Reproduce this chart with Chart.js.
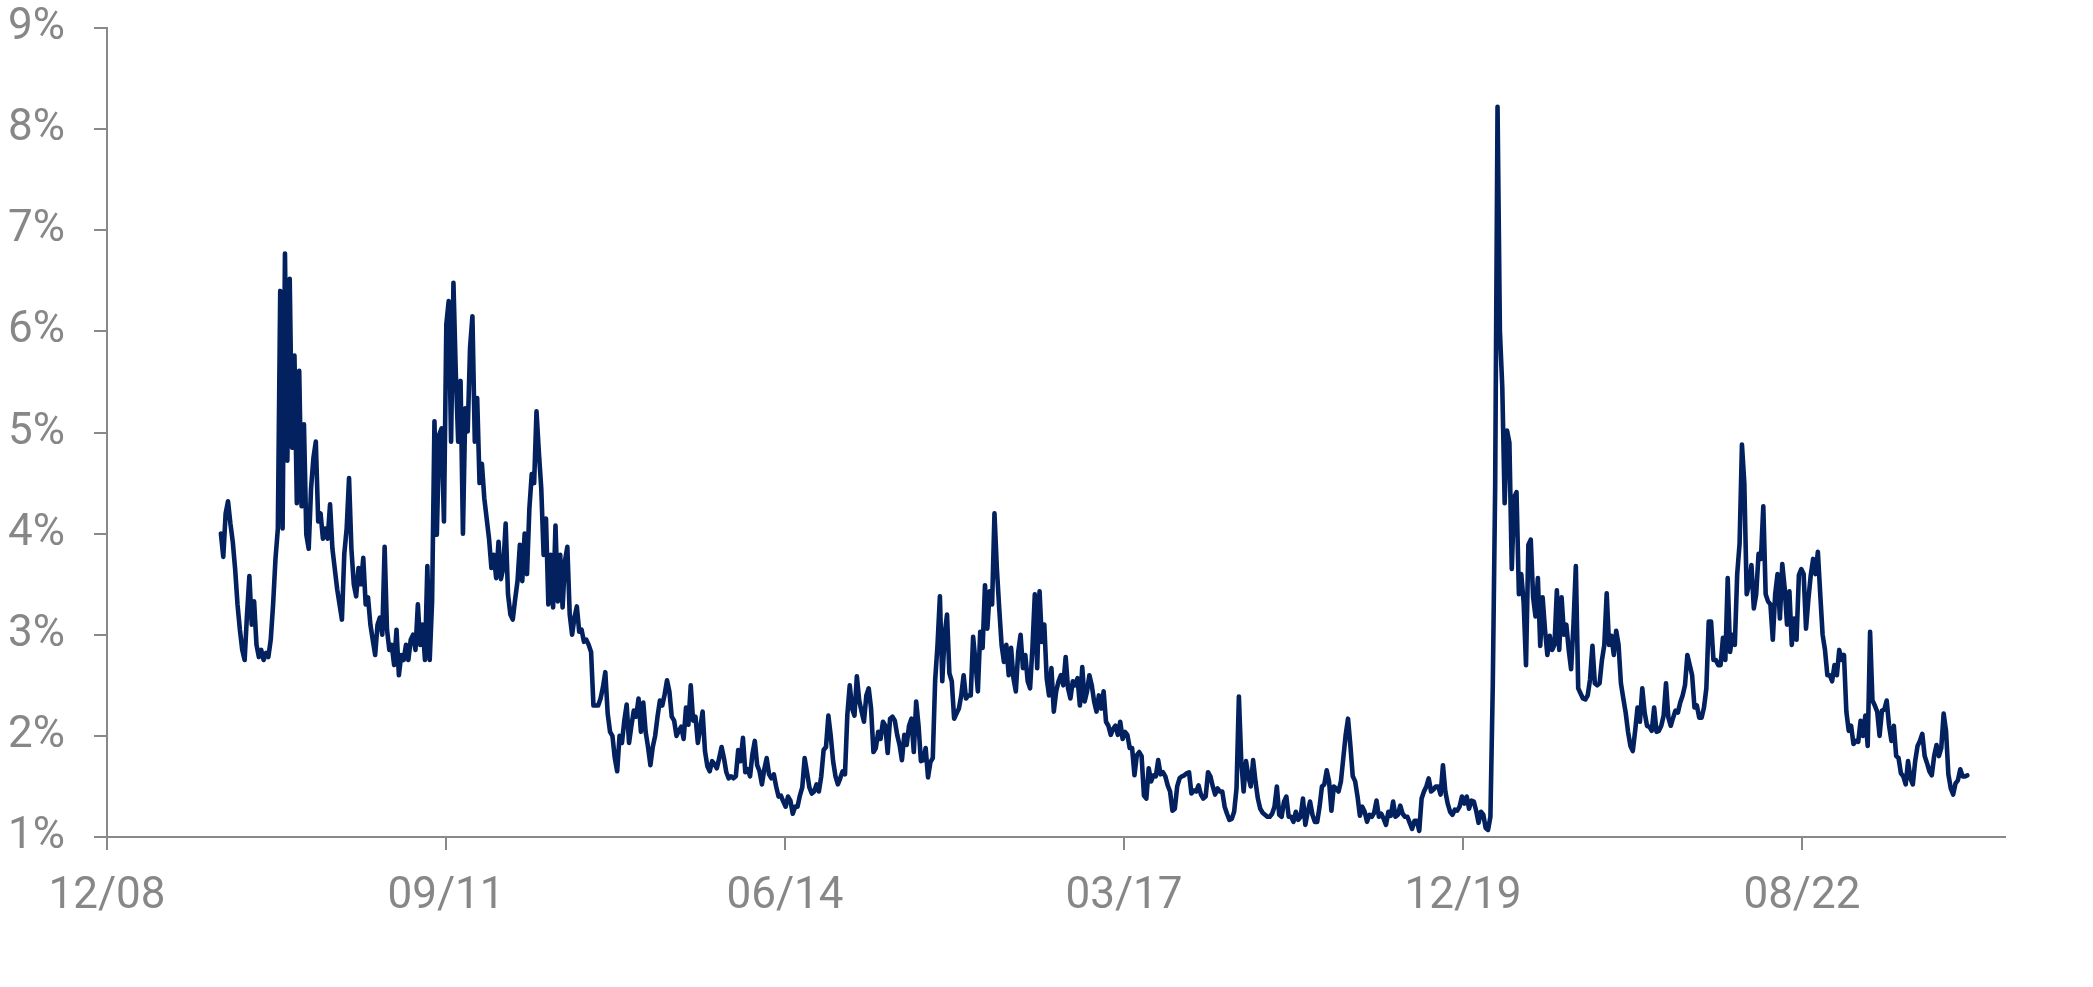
<!DOCTYPE html>
<html>
<head>
<meta charset="utf-8">
<script src="https://cdn.jsdelivr.net/npm/chart.js@4.4.1/dist/chart.umd.min.js"></script>
<style>
  html, body { margin: 0; padding: 0; background: #ffffff; }
  #wrap { width: 2093px; height: 987px; position: relative; }
</style>
</head>
<body>
<div id="wrap"><canvas id="c" width="2093" height="987"></canvas></div>
<script>
// X-axis tick labels (one every 1000 days, first tick = day 0)
const tickLabels = ['12/08', '09/11', '06/14', '03/17', '12/19', '08/22'];
const tickSpacingDays = 1000;
const axisEndDay = 5599;
// Weekly observations: first point at day 336 after the first tick
const firstPointDay = 336;
const stepDays = 7;
// Y-axis ticks (%)
const yTicks = [1, 2, 3, 4, 5, 6, 7, 8, 9];

// Series values in % (weekly readings)
const weeklyValues = [
  4.0, 3.77, 4.2, 4.32, 4.1, 3.92, 3.65, 3.3, 3.05, 2.85, 2.75, 3.2, 3.58, 3.1, 3.33, 2.9, 2.78, 2.85, 2.75, 2.82, 2.78, 2.95, 3.3, 3.75, 4.05,
  6.4, 4.05, 6.77, 4.72, 6.52, 4.85, 5.76, 4.3, 5.61, 4.27, 5.08, 3.99, 3.85, 4.45, 4.75, 4.91, 4.12, 4.2, 3.95, 4.05, 3.95, 4.29, 3.85, 3.65, 3.45, 3.3, 3.15, 3.8, 4.05, 4.55, 3.85, 3.5,
  3.38, 3.66, 3.5, 3.76, 3.3, 3.37, 3.1, 2.95, 2.8, 3.1, 3.17, 3.0, 3.87, 3.05, 2.85, 2.9, 2.7, 3.05, 2.6, 2.8, 2.75, 2.9, 2.75, 2.95, 3.0, 2.85, 3.3, 2.9, 3.1, 2.75, 3.68, 2.75, 3.33,
  5.11, 3.99, 4.98, 5.04, 4.12, 6.07, 6.30, 4.91, 6.48, 5.58, 4.91, 5.51, 4.0, 5.24, 5.01, 5.84, 6.15, 4.91, 5.34, 4.5, 4.69, 4.35, 4.15, 3.95, 3.66, 3.79, 3.56, 3.92, 3.55, 3.66,
  4.1, 3.4, 3.2, 3.15, 3.35, 3.53, 3.89, 3.53, 4.0, 3.6, 4.25, 4.59, 4.5, 5.21, 4.8, 4.45, 3.79, 4.15, 3.3, 3.79, 3.27, 4.08, 3.33, 3.79, 3.27, 3.73, 3.87, 3.2, 3.0, 3.17, 3.28, 3.03, 3.05, 2.93, 2.95, 2.9, 2.83,
  2.3, 2.3, 2.3, 2.37, 2.48, 2.63, 2.22, 2.04, 2.0, 1.78,
  1.65, 2.0, 1.93, 2.15, 2.31, 1.93, 2.1, 2.25, 2.19, 2.37,
  2.04, 2.33, 2.04, 1.89, 1.71, 1.89, 2.0, 2.19, 2.35, 2.3,
  2.41, 2.55, 2.44, 2.19, 2.15, 2.0, 2.05, 2.09, 1.97, 2.28,
  2.11, 2.5, 2.15, 2.19, 1.93, 2.08, 2.24, 1.85, 1.7, 1.65,
  1.75, 1.72, 1.68, 1.78, 1.89, 1.78, 1.64, 1.58, 1.6, 1.58,
  1.6, 1.86, 1.75, 1.98, 1.64, 1.67, 1.6, 1.82, 1.95, 1.71,
  1.65, 1.52, 1.67, 1.78, 1.62, 1.58, 1.62, 1.5, 1.4, 1.41,
  1.35, 1.3, 1.4, 1.36, 1.23, 1.3, 1.3, 1.41, 1.49, 1.78,
  1.64, 1.49, 1.43, 1.45, 1.52, 1.45, 1.6, 1.86, 1.89, 2.2,
  2.0, 1.75, 1.6, 1.52, 1.58,
  1.65, 1.62, 2.21, 2.5, 2.27, 2.2, 2.59, 2.35, 2.24, 2.14,
  2.4, 2.47, 2.27, 1.84, 1.88, 2.04, 1.97, 2.14, 2.1, 1.83,
  2.17, 2.19, 2.15, 2.01, 1.91, 1.76, 2.01, 1.91, 2.1, 2.17,
  1.84, 2.34, 2.1, 1.75, 1.76, 1.88, 1.59, 1.74, 1.78, 2.55,
  2.9, 3.38, 2.54, 3.0, 3.2, 2.62, 2.54, 2.17, 2.22, 2.27,
  2.4, 2.6, 2.37, 2.4, 2.4, 2.98, 2.73, 2.44, 3.03, 2.87,
  3.49, 3.06, 3.43, 3.3, 4.2, 3.66, 3.26, 2.9, 2.73, 2.9,
  2.6, 2.87, 2.57, 2.44, 2.83, 3.0, 2.67, 2.8, 2.54, 2.47,
  2.87, 3.4, 2.67, 3.43, 2.93, 3.1, 2.57, 2.4, 2.67, 2.24,
  2.44, 2.54, 2.6, 2.5, 2.78, 2.47, 2.37, 2.54, 2.5, 2.57,
  2.3, 2.68, 2.34, 2.44, 2.6, 2.5, 2.34, 2.24, 2.4, 2.27,
  2.44, 2.14, 2.1, 2.01, 2.07, 2.1, 2.01, 2.14, 1.97, 2.04,
  2.01, 1.88, 1.88, 1.61, 1.81, 1.84, 1.8, 1.41, 1.38, 1.68,
  1.55, 1.61, 1.6, 1.76, 1.62, 1.64, 1.6, 1.51, 1.45, 1.26,
  1.28, 1.5, 1.58, 1.6, 1.61, 1.63, 1.64, 1.43, 1.46, 1.45,
  1.51, 1.42, 1.38, 1.4, 1.64, 1.6, 1.5, 1.42, 1.48, 1.45,
  1.45, 1.3, 1.23, 1.17, 1.18, 1.25, 1.48, 2.39, 1.75, 1.45,
  1.75, 1.6, 1.5, 1.76, 1.55, 1.38, 1.28, 1.24, 1.22, 1.2,
  1.2, 1.23, 1.3, 1.5, 1.22, 1.2, 1.35, 1.4, 1.2, 1.2,
  1.15, 1.25, 1.17, 1.2, 1.38, 1.12, 1.25, 1.35, 1.22, 1.15,
  1.15, 1.3, 1.5, 1.52, 1.66, 1.55, 1.26, 1.5, 1.48, 1.45,
  1.55, 1.78, 2.01, 2.17, 1.9, 1.6, 1.55, 1.4, 1.21, 1.3,
  1.25, 1.15, 1.22, 1.2, 1.24, 1.36, 1.2, 1.23, 1.18, 1.12,
  1.25, 1.21, 1.35, 1.2, 1.22, 1.31, 1.23, 1.2, 1.2, 1.14,
  1.08, 1.16, 1.16, 1.06, 1.38, 1.45, 1.5, 1.58, 1.45, 1.47,
  1.5, 1.5, 1.42, 1.71, 1.45, 1.33, 1.25, 1.22, 1.27, 1.26,
  1.3,
  1.4, 1.33, 1.4, 1.28, 1.36, 1.35, 1.26, 1.14, 1.25, 1.22, 1.09, 1.07, 1.2,
  2.5, 4.46, 8.22, 6.0, 5.45, 4.3, 5.02, 4.9, 3.65, 4.36,
  4.41, 3.4, 3.6, 3.32, 2.7, 3.89, 3.94, 3.37, 3.18, 3.56,
  2.89, 3.37, 3.05, 2.8, 2.99, 2.85, 2.9, 3.44, 2.85, 3.37,
  3.0, 3.1, 2.85, 2.66, 3.1, 3.68, 2.47, 2.42, 2.37, 2.36,
  2.4, 2.56, 2.89, 2.52, 2.5, 2.52, 2.75, 2.9, 3.41, 2.9,
  2.99, 2.8, 3.04, 2.9, 2.52, 2.37, 2.23, 2.04, 1.9, 1.85,
  2.05, 2.28, 2.14, 2.47, 2.23, 2.1, 2.09, 2.05, 2.28, 2.04,
  2.05, 2.1, 2.2, 2.52, 2.18, 2.1, 2.18, 2.25, 2.23, 2.33,
  2.4, 2.5, 2.8, 2.7, 2.6, 2.28, 2.3, 2.18, 2.18, 2.28,
  2.47, 3.13, 3.13, 2.75, 2.75, 2.7, 2.7, 2.97, 2.75, 3.56,
  2.83, 3.0, 2.9, 3.6,
  3.9, 4.88, 4.5, 3.4, 3.5, 3.69, 3.26, 3.4, 3.8, 3.75,
  4.27, 3.4, 3.33, 3.3, 2.95, 3.4, 3.6, 3.16, 3.7, 3.46,
  3.1, 3.43, 2.9, 3.16, 2.95, 3.59, 3.65, 3.6, 3.06, 3.35,
  3.59, 3.75, 3.6, 3.82, 3.4, 3.0, 2.85, 2.6, 2.6, 2.54,
  2.7, 2.6, 2.85, 2.75, 2.8, 2.24, 2.05, 2.1, 1.92, 1.95,
  1.94, 2.15, 2.0, 2.2, 1.9, 3.03, 2.35, 2.3, 2.24, 2.0,
  2.25, 2.26, 2.35, 2.1, 1.95, 2.1, 1.8, 1.78, 1.63, 1.6,
  1.52, 1.75, 1.58, 1.52, 1.75, 1.9, 1.95, 2.02, 1.8, 1.73,
  1.65, 1.61, 1.8, 1.91, 1.8, 1.88, 2.22, 2.05, 1.62, 1.48,
  1.42, 1.53, 1.56, 1.67, 1.6, 1.6, 1.61
];

const points = weeklyValues.map((v, i) => ({ x: firstPointDay + stepDays * i, y: v }));
const tickDays = tickLabels.map((_, i) => i * tickSpacingDays);

const AXIS = '#898989';
const TEXT = '#878787';
Chart.defaults.font.family = 'Roboto, "Noto Sans", sans-serif';

new Chart(document.getElementById('c'), {
  type: 'line',
  data: {
    datasets: [{
      data: points,
      borderColor: '#03215e',
      borderWidth: 4.6,
      pointRadius: 0,
      tension: 0,
      fill: false,
      borderJoinStyle: 'round',
      borderCapStyle: 'round'
    }]
  },
  options: {
    responsive: false,
    animation: false,
    events: [],
    layout: { padding: { top: 28, right: 88, left: 0, bottom: 0 } },
    plugins: { legend: { display: false }, tooltip: { enabled: false } },
    scales: {
      x: {
        type: 'linear',
        min: 0,
        max: axisEndDay,
        afterBuildTicks: (scale) => { scale.ticks = tickDays.map(v => ({ value: v })); },
        afterFit: (scale) => {
          scale.height = 150;
          scale.paddingLeft = 0; scale.paddingRight = 0; scale.paddingTop = 0; scale.paddingBottom = 0;
        },
        grid: { display: true, drawOnChartArea: false, drawTicks: true, tickLength: 13, color: AXIS, lineWidth: 2 },
        border: { display: true, color: AXIS, width: 2 },
        ticks: {
          autoSkip: false,
          maxRotation: 0,
          padding: 21,
          color: TEXT,
          font: { size: 44 },
          callback: (v, i) => tickLabels[i]
        }
      },
      y: {
        min: yTicks[0],
        max: yTicks[yTicks.length - 1],
        afterBuildTicks: (scale) => { scale.ticks = yTicks.map(v => ({ value: v })); },
        afterFit: (scale) => {
          scale.width = 107;
          scale.paddingLeft = 0; scale.paddingRight = 0; scale.paddingTop = 0; scale.paddingBottom = 0;
        },
        grid: { display: true, drawOnChartArea: false, drawTicks: true, tickLength: 13, color: AXIS, lineWidth: 2 },
        border: { display: true, color: AXIS, width: 2 },
        ticks: {
          padding: 29,
          color: TEXT,
          font: { size: 44 },
          callback: (v) => v + '%'
        }
      }
    }
  }
});
</script>
</body>
</html>
